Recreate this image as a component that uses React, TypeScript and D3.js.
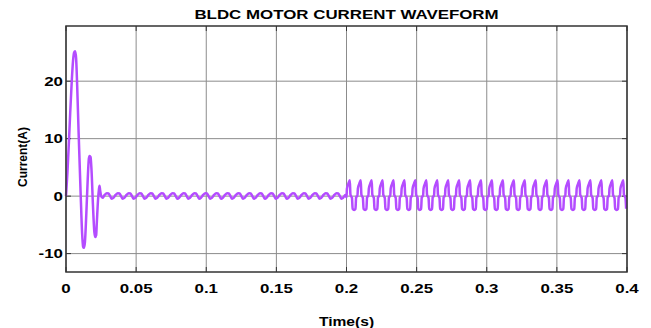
import React from "react";
import * as d3 from "d3";

// ---- data ----
const xTicks = [0, 0.05, 0.1, 0.15, 0.2, 0.25, 0.3, 0.35, 0.4];
const xTickLabels = ["0", "0.05", "0.1", "0.15", "0.2", "0.25", "0.3", "0.35", "0.4"];
const yTicks = [-10, 0, 10, 20];
const yTickLabels = ["-10", "0", "10", "20"];

// start-up transient (explicit points)
const transientT = [0, 0.001, 0.002, 0.003, 0.004, 0.005, 0.0058, 0.0065, 0.0072, 0.008, 0.009, 0.0105, 0.0115, 0.0122, 0.0128, 0.0135, 0.0145, 0.0155, 0.0163, 0.0168, 0.0175, 0.0182, 0.0192, 0.0202, 0.0209, 0.0215, 0.022, 0.0228, 0.0235, 0.0239, 0.0244, 0.025, 0.026];
const transientI = [0, 4, 9, 14.5, 19.5, 23.5, 25, 25.2, 24, 19, 11, 0, -6.5, -8.8, -9, -8, -3, 3, 6.5, 7, 6.8, 4.5, -1.5, -6.2, -7.1, -6.8, -4.5, -0.8, 1.2, 1.8, 0.9, 0.1, -0.3];

// light running ripple 0.026 – 0.2 s (one cycle shape, repeated)
const rippleStart = 0.026;
const rippleEnd = 0.2;
const ripplePeriod = 0.0078;
const rippleShapePhase = [0, 0.2, 0.4, 0.55, 0.7, 0.85, 1];
const rippleShapeI = [-0.3, 0.2, 0.5, 0.45, 0.0, -0.45, -0.3];

// loaded steady state 0.2 – 0.4 s (one cycle shape, repeated)
const steadyStart = 0.2;
const steadyEnd = 0.4;
const steadyPeriod = 0.0078;
const steadyShapePhase = [0, 0.04, 0.18, 0.3, 0.36, 0.42, 0.5, 0.56, 0.7, 0.82, 0.88, 0.94, 1];
const steadyShapeI = [0, 1.3, 2.2, 2.75, 0.3, 0, -0.3, -2.2, -2.4, -2.2, -0.2, 0, 0];

const W = 651;
const H = 328;
const margin = { left: 66, right: 24, top: 26, bottom: 56 };

function buildSeries(): [number, number][] {
  const pts: [number, number][] = [];
  for (let i = 0; i < transientT.length; i++) pts.push([transientT[i], transientI[i]]);
  for (let c = 0; rippleStart + c * ripplePeriod < rippleEnd; c++) {
    const t0 = rippleStart + c * ripplePeriod;
    for (let k = 1; k < rippleShapePhase.length; k++) {
      const t = t0 + rippleShapePhase[k] * ripplePeriod;
      if (t > rippleEnd) break;
      pts.push([t, rippleShapeI[k]]);
    }
  }
  pts.push([steadyStart, -0.2]);
  for (let c = 0; steadyStart + c * steadyPeriod < steadyEnd; c++) {
    const t0 = steadyStart + c * steadyPeriod;
    for (let k = 1; k < steadyShapePhase.length; k++) {
      const t = t0 + steadyShapePhase[k] * steadyPeriod;
      if (t > steadyEnd) break;
      pts.push([t, steadyShapeI[k]]);
    }
  }
  return pts;
}

const SX = 1.3; // horizontal stretch of the reference text
const FONT = "'Liberation Sans', Arial, Helvetica, sans-serif";

function T(props: { x: number; y: number; anchor?: string; size?: number; children: React.ReactNode; rotate?: boolean }) {
  const { x, y, anchor = "middle", size = 13, rotate } = props;
  const tr = rotate ? `translate(${x},${y}) rotate(-90)` : `translate(${x},${y}) scale(${SX},1)`;
  return (
    <text transform={tr} textAnchor={anchor} fontFamily={FONT} fontWeight="bold" fontSize={size} fill="#000">
      {props.children}
    </text>
  );
}

export default function App() {
  const x = d3.scaleLinear().domain([0, 0.4]).range([margin.left, W - margin.right]);
  const y = d3.scaleLinear().domain([-13.2, 29.6]).range([H - margin.bottom, margin.top]);
  const data = buildSeries();
  const line = d3
    .line<[number, number]>()
    .x((d) => x(d[0]))
    .y((d) => y(d[1]))
    .curve(d3.curveMonotoneX);
  const x0 = x(0), x1 = x(0.4), y0 = y(-13.2), y1 = y(29.6);
  return (
    <svg width={W} height={H} style={{ position: "absolute", left: 0, top: 0, background: "#fff" }}>
      <rect x={x0} y={y1} width={x1 - x0} height={y0 - y1} fill="#fff" />
      {xTicks.map((t, i) => (
        <line key={"gx" + i} x1={x(t)} x2={x(t)} y1={y1} y2={y0} stroke="#8c8c8c" strokeWidth={1} />
      ))}
      {yTicks.map((t, i) => (
        <line key={"gy" + i} x1={x0} x2={x1} y1={y(t)} y2={y(t)} stroke="#8c8c8c" strokeWidth={1} />
      ))}
      {xTicks.map((t, i) => (
        <g key={"tx" + i}>
          <line x1={x(t)} x2={x(t)} y1={y0} y2={y0 - 5} stroke="#333" strokeWidth={1} />
          <line x1={x(t)} x2={x(t)} y1={y1} y2={y1 + 5} stroke="#333" strokeWidth={1} />
        </g>
      ))}
      {yTicks.map((t, i) => (
        <g key={"ty" + i}>
          <line x1={x0} x2={x0 + 5} y1={y(t)} y2={y(t)} stroke="#333" strokeWidth={1} />
          <line x1={x1} x2={x1 - 5} y1={y(t)} y2={y(t)} stroke="#333" strokeWidth={1} />
        </g>
      ))}
      <path d={line(data) || ""} fill="none" stroke="#b44cff" strokeWidth={2.5} strokeLinejoin="round" />
      <rect x={x0} y={y1} width={x1 - x0} height={y0 - y1} fill="none" stroke="#333" strokeWidth={1.5} />
      {xTicks.map((t, i) => (
        <T key={"lx" + i} x={x(t)} y={293}>{xTickLabels[i]}</T>
      ))}
      {yTicks.map((t, i) => (
        <T key={"ly" + i} x={x0 - 3} y={y(t) + 4.5} anchor="end">{yTickLabels[i]}</T>
      ))}
      <T x={(x0 + x1) / 2} y={19}>BLDC MOTOR CURRENT WAVEFORM</T>
      <T x={(x0 + x1) / 2} y={326} size={12}>Time(s)</T>
      <T x={27} y={157} size={12} rotate>Current(A)</T>
    </svg>
  );
}
